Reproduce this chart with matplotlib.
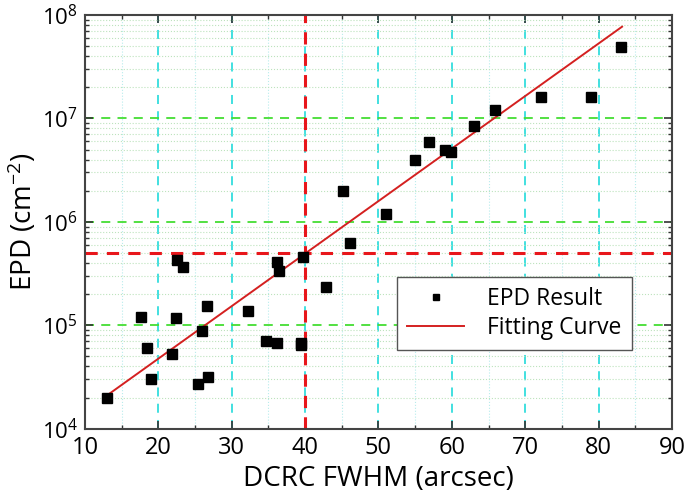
import numpy as np
import matplotlib
matplotlib.use("Agg")
import matplotlib.pyplot as plt
from matplotlib.ticker import MultipleLocator, LogLocator, NullFormatter

plt.rcParams['font.family'] = ['Open Sans', 'DejaVu Sans']
plt.rcParams['mathtext.fontset'] = 'custom'
plt.rcParams['mathtext.rm'] = 'Open Sans'
plt.rcParams['mathtext.it'] = 'Open Sans'
plt.rcParams['mathtext.default'] = 'regular'

# measured points (DCRC FWHM in arcsec, EPD in cm^-2)
fwhm = [13.0, 17.7, 18.4, 19.0, 21.9, 22.4, 22.6, 23.3, 25.4, 26.0, 26.6, 26.8,
        32.2, 34.7, 36.2, 36.5, 36.2, 39.4, 39.4, 39.7, 42.9, 45.1, 46.1, 51.0,
        55.0, 56.9, 59.1, 59.9, 63.0, 65.9, 72.1, 79.0, 83.1]
epd = [2.0e4, 1.2e5, 6.1e4, 3.0e4, 5.3e4, 1.17e5, 4.3e5, 3.65e5, 2.7e4, 8.9e4, 1.55e5, 3.2e4,
       1.38e5, 7.1e4, 4.1e5, 3.37e5, 6.8e4, 6.8e4, 6.4e4, 4.6e5, 2.34e5, 2.0e6, 6.2e5, 1.2e6,
       4.0e6, 5.9e6, 4.9e6, 4.75e6, 8.5e6, 1.2e7, 1.6e7, 1.6e7, 4.9e7]

# fitting curve end points
fit_x = [13.0, 83.2]
fit_y = [2.1e4, 7.7e7]

x_mark = 40
y_mark = 5e5

fig = plt.figure(figsize=(6.85, 4.98), dpi=100)
ax = fig.add_axes([0.124, 0.139, 0.857, 0.831])

ax.set_yscale('log')
ax.set_xlim(10, 90)
ax.set_ylim(1e4, 1e8)

# grids
ax.xaxis.set_major_locator(MultipleLocator(10))
ax.xaxis.set_minor_locator(MultipleLocator(5))
ax.yaxis.set_major_locator(LogLocator(base=10, numticks=10))
ax.yaxis.set_minor_locator(LogLocator(base=10, subs=np.arange(2, 10), numticks=20))
ax.yaxis.set_minor_formatter(NullFormatter())

ax.grid(which='major', axis='x', color='#33dddd', linestyle=(0, (5, 4)), linewidth=1.3)
ax.grid(which='minor', axis='x', color='#b8ecec', linestyle=':', linewidth=0.8)
ax.grid(which='major', axis='y', color='#44dd33', linestyle=(0, (5, 4)), linewidth=1.3)
ax.grid(which='minor', axis='y', color='#bde3bd', linestyle=':', linewidth=0.8)
ax.set_axisbelow(True)

ax.axvline(x_mark, color='#e8161b', linestyle=(0, (4, 3)), linewidth=2.2, zorder=2)
ax.axhline(y_mark, color='#e8161b', linestyle=(0, (4, 3)), linewidth=2.2, zorder=2)

ax.plot(fwhm, epd, 's', color='black', markersize=6.5, linestyle='none',
        label='EPD Result', zorder=4)
ax.plot(fit_x, fit_y, '-', color='#d42020', linewidth=1.4, label='Fitting Curve', zorder=3)

ax.tick_params(which='both', direction='in', top=True, right=True, colors='#333333')
ax.tick_params(which='major', length=6, width=1.2, labelcolor='black')
ax.tick_params(axis='x', which='major', labelsize=17, pad=5)
ax.tick_params(axis='y', which='major', labelsize=16, pad=5)
ax.tick_params(which='minor', length=3, width=1.0)
for s in ax.spines.values():
    s.set_color('#444444')
    s.set_linewidth(1.5)

ax.set_xlabel('DCRC FWHM (arcsec)', fontsize=20, labelpad=4)
ax.set_ylabel('EPD (cm$^{-2}$)', fontsize=20, labelpad=2)

leg = ax.legend(loc='upper left', bbox_to_anchor=(0.531, 0.367), borderaxespad=0,
                fontsize=16.5, frameon=True, fancybox=False, edgecolor='#555555',
                framealpha=1, handlelength=2.5, handletextpad=1.0, markerscale=0.75,
                borderpad=0.45, labelspacing=0.2)
leg.get_frame().set_linewidth(1.0)

fig.savefig('out.png', dpi=100)
